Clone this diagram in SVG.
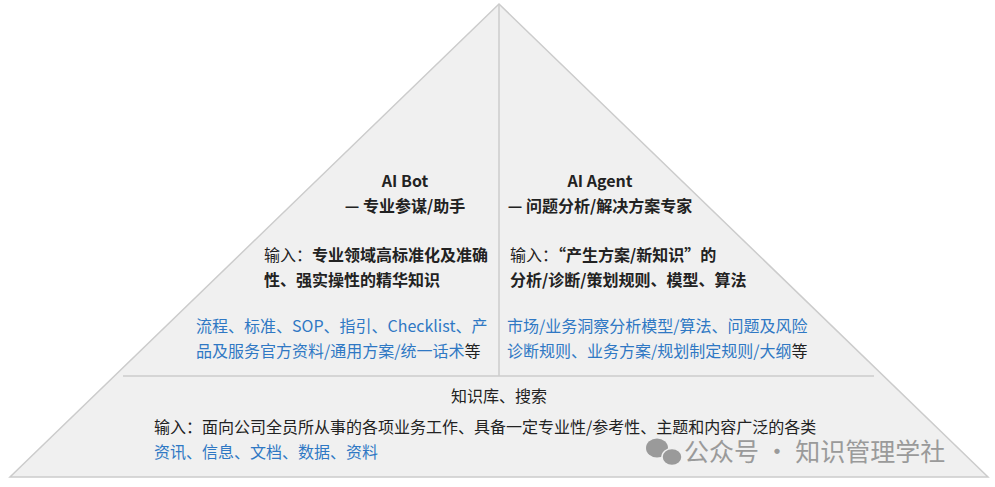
<svg xmlns="http://www.w3.org/2000/svg" width="995" height="487" viewBox="0 0 995 487">
<style>
.t{font-family:"Noto Sans CJK SC","Noto Sans",sans-serif;font-size:16px;fill:#222}
.b{font-weight:bold}
.bl{fill:#2f78c4}
.ln{stroke:#cccccc;stroke-width:1.5;fill:none}
</style>
<rect width="995" height="487" fill="#fff"/>
<g id="pyramid">
<polygon points="499,4 10,477 988,477" fill="#f0f0f0" stroke="#cccccc" stroke-width="1.5"/>
</g>
<g id="connectors">
<line class="ln" x1="123" y1="376" x2="874" y2="376"/>
<line class="ln" x1="499" y1="4" x2="499" y2="376"/>
</g>
<g id="bot">
<text class="t b" x="405" y="187" text-anchor="middle">AI Bot</text>
<text class="t b" x="405" y="212" text-anchor="middle">— 专业参谋/助手</text>
<text class="t" x="264" y="261">输入：<tspan class="b">专业领域高标准化及准确</tspan></text>
<text class="t b" x="264" y="286">性、强实操性的精华知识</text>
<text class="t bl" x="196" y="332">流程、标准、SOP、指引、Checklist、产</text>
<text class="t" x="196" y="357"><tspan class="bl">品及服务官方资料/通用方案/统一话术</tspan>等</text>
</g>
<g id="agent">
<text class="t b" x="600" y="187" text-anchor="middle">AI Agent</text>
<text class="t b" x="600" y="212" text-anchor="middle">— 问题分析/解决方案专家</text>
<text class="t" x="510" y="261">输入：<tspan class="b">“产生方案/新知识”的</tspan></text>
<text class="t b" x="510" y="286">分析/诊断/策划规则、模型、算法</text>
<text class="t bl" x="507" y="332">市场/业务洞察分析模型/算法、问题及风险</text>
<text class="t" x="507" y="357"><tspan class="bl">诊断规则、业务方案/规划制定规则/大纲</tspan>等</text>
</g>
<g id="base">
<text class="t" x="499" y="402" text-anchor="middle">知识库、搜索</text>
<text class="t" x="154" y="433">输入：面向公司全员所从事的各项业务工作、具备一定专业性/参考性、主题和内容广泛的各类</text>
<text class="t bl" x="154" y="458">资讯、信息、文档、数据、资料</text>
</g>
<g id="watermark">
<ellipse cx="657" cy="448" rx="11" ry="9.5" fill="#9a9a9a"/>
<ellipse cx="672" cy="457" rx="10" ry="8.5" fill="#9a9a9a" stroke="#f0f0f0" stroke-width="1.5"/>
<text x="684" y="461" style="font-family:'Noto Sans CJK SC',sans-serif;font-size:25px;fill:#9a9a9a">公众号 · 知识管理学社</text>
</g>
</svg>
